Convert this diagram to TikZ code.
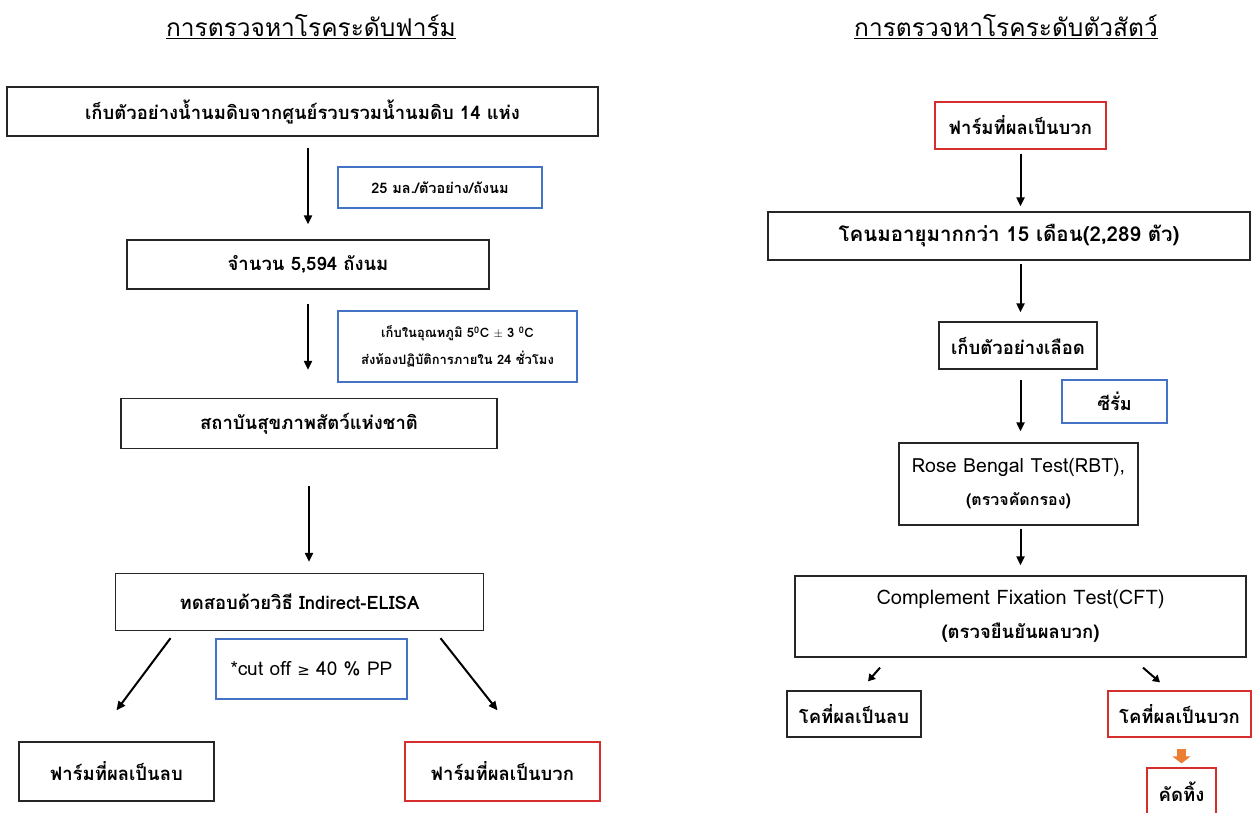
\documentclass[tikz,border=0pt]{standalone}
\usepackage{fontspec}
\setmainfont[Script=Thai]{Loma}
\newfontfamily\symfnt{DejaVu Sans}
\usetikzlibrary{arrows.meta}

\definecolor{noteblue}{RGB}{68,114,196}
\definecolor{posred}{RGB}{214,45,45}
\definecolor{cullorange}{RGB}{237,125,49}

\tikzset{
  box/.style={draw=black!85, line width=1.3pt, inner sep=0pt, align=center,
    font=\bfseries\fontsize{18.5}{26}\selectfont},
  redbox/.style={box, draw=posred},
  notebox/.style={draw=noteblue, line width=1.1pt, inner sep=0pt, align=center,
    font=\bfseries\fontsize{14.5}{20}\selectfont},
  ttl/.style={font=\fontsize{24.5}{28}\selectfont},
  arr/.style={line width=2pt, -{Triangle[length=9pt,width=8pt]}},
  smallarr/.style={line width=2pt, -{Triangle[length=7pt,width=8pt]}},
}

\begin{document}
\begin{tikzpicture}[x=1pt,y=-1pt]
\useasboundingbox (0,0) rectangle (1252,812);

% farm level
\node[ttl] (ttlfarm) at (311,27) {\underline{การตรวจหาโรคระดับฟาร์ม}};
\node[box, minimum width=591, minimum height=49] (milk) at (302.5,111.5) {เก็บตัวอย่างน้ำนมดิบจากศูนย์รวบรวมน้ำนมดิบ 14 แห่ง};
\node[notebox, minimum width=204, minimum height=41] (vol) at (440,187.5) {25 มล./ตัวอย่าง/ถังนม};
\node[notebox, minimum width=239, minimum height=71, font=\bfseries\fontsize{13}{27}\selectfont] (temp) at (457.5,346.5) {เก็บในอุณหภูมิ 5\textsuperscript{0}C $\pm$ 3 \textsuperscript{0}C\\ส่งห้องปฏิบัติการภายใน 24 ชั่วโมง};
\node[box, minimum width=362, minimum height=49] (tanks) at (308,264.5) {จำนวน 5,594 ถังนม};
\node[box, minimum width=376, minimum height=50] (nih) at (309,423.5) {สถาบันสุขภาพสัตว์แห่งชาติ};
\node[box, minimum width=368, minimum height=57] (elisa) at (299.5,602) {ทดสอบด้วยวิธี Indirect-ELISA};
\node[notebox, minimum width=191, minimum height=60, font=\fontsize{19}{22}\selectfont] (cutoff) at (311.5,669) {*cut off {\symfnt\fontsize{15}{20}\selectfont ≥} 40 \% PP};
\node[box, minimum width=195, minimum height=59] (fneg) at (116.5,771.5) {ฟาร์มที่ผลเป็นลบ};
\node[redbox, minimum width=195, minimum height=59] (fpos) at (502.5,771.5) {ฟาร์มที่ผลเป็นบวก};

\draw[arr, shorten <=11pt, shorten >=15pt] (milk.south -| tanks.north) -- (tanks.north);
\draw[arr, shorten <=14pt, shorten >=28pt] (tanks.south) -- (nih.north -| tanks.south);
\draw[arr, shorten <=37pt, shorten >=11pt] (nih.south) -- (elisa.north -| nih.south);
\draw[arr] ([xshift=-129pt,yshift=-7pt]elisa.south) -- ([xshift=0pt,yshift=31pt]fneg.north);
\draw[arr] ([xshift=141pt,yshift=-7pt]elisa.south) -- ([xshift=-5pt,yshift=31pt]fpos.north);

% animal level
\node[ttl] (ttlcow) at (1006,27) {\underline{การตรวจหาโรคระดับตัวสัตว์}};
\node[redbox, minimum width=171, minimum height=47] (rfarm) at (1020.5,125.5) {ฟาร์มที่ผลเป็นบวก};
\node[box, minimum width=482, minimum height=48, font=\bfseries\fontsize{20.5}{26}\selectfont] (cows) at (1009,236) {โคนมอายุมากกว่า 15 เดือน(2,289 ตัว)};
\node[box, minimum width=158, minimum height=47] (blood) at (1018,345.5) {เก็บตัวอย่างเลือด};
\node[notebox, minimum width=105, minimum height=43, font=\bfseries\fontsize{18}{20}\selectfont] (serum) at (1114.5,401.5) {ซีรั่ม};
\node[box, minimum width=239, minimum height=82, font=\fontsize{19.5}{33}\selectfont] (rbt) at (1018.5,484) {Rose Bengal Test(RBT),\\{\bfseries\fontsize{16}{20}\selectfont (ตรวจคัดกรอง)}};
\node[box, minimum width=451, minimum height=81, font=\fontsize{20}{34}\selectfont] (cft) at (1020.5,616.5) {Complement Fixation Test(CFT)\\{\bfseries\fontsize{18.5}{20}\selectfont (ตรวจยืนยันผลบวก)}};
\node[box, minimum width=134, minimum height=46] (cneg) at (854,714) {โคที่ผลเป็นลบ};
\node[redbox, minimum width=143, minimum height=46] (cpos) at (1179.5,714) {โคที่ผลเป็นบวก};
\node[redbox, minimum width=69, minimum height=48] (cull) at (1181.5,792) {คัดทิ้ง};

\draw[arr, shorten <=4pt, shorten >=5pt] (rfarm.south) -- (cows.north -| rfarm.south);
\draw[arr, shorten <=3pt, shorten >=9pt] (cows.south -| rfarm.south) -- (blood.north -| rfarm.south);
\draw[arr, shorten <=10pt, shorten >=11pt] (blood.south -| rfarm.south) -- (rbt.north -| rfarm.south);
\draw[arr, shorten <=3pt, shorten >=10pt] (rbt.south -| rfarm.south) -- (cft.north -| rfarm.south);
\draw[smallarr] ([xshift=-140.5pt,yshift=-10pt]cft.south) -- ([xshift=14pt,yshift=9pt]cneg.north);
\draw[smallarr] ([xshift=122.5pt,yshift=-10pt]cft.south) -- ([xshift=-19.5pt,yshift=8pt]cpos.north);
\draw[cullorange, line width=9pt, -{Triangle[length=7pt,width=18pt]}, shorten <=11pt, shorten >=4pt] (cpos.south -| cull.north) -- (cull.north);
\end{tikzpicture}
\end{document}
